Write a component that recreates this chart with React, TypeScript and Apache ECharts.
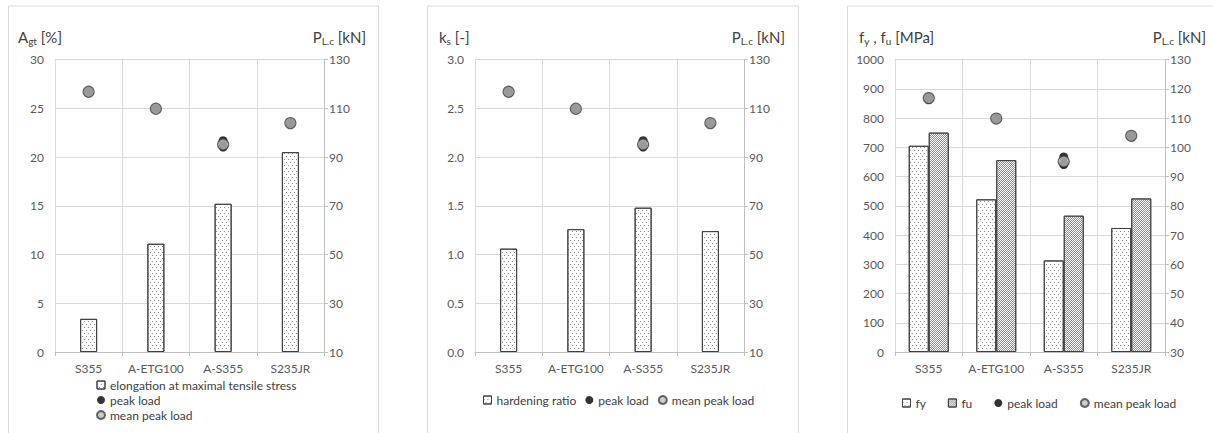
import React, { useEffect, useRef } from "react";
import * as echarts from "echarts";

const categories = ["S355", "A-ETG100", "A-S355", "S235JR"];
const elongation = [3.4, 11.1, 15.2, 20.5];
const hardeningRatio = [1.06, 1.26, 1.48, 1.24];
const fy = [705, 522, 313, 424];
const fu = [750, 656, 466, 525];
const peakLoadA = [116.3, 109.6, 96.7, 103.6];
const peakLoadB = [117.0, 110.0, 94.1, 104.1];
const peakLoadC = [117.1, 109.8, 94.5, 104.0];
const meanPeakLoad = [116.8, 109.8, 95.1, 103.9];

const FONT = "Lato";
const GRID_COLOR = "#d9d9d9";
const LABEL_COLOR = "#595959";
const TEXT_COLOR = "#404040";

const pairs = (arr: number[]) => arr.map((v, i) => [i, v]);

const sparseDecal = {
  symbol: "rect",
  symbolSize: 1,
  color: "#8c8c8c",
  dashArrayX: [[1, 3], [0, 2, 1, 1]],
  dashArrayY: [1, 2],
  rotation: 0,
};
const denseDecal = {
  symbol: "rect",
  symbolSize: 1,
  color: "#8c8c8c",
  dashArrayX: [[1, 1], [0, 1, 1, 0]],
  dashArrayY: [1, 0],
  rotation: 0,
};

type Seg = [string, boolean]; // text, isSubscript

export default function App() {
  const ref = useRef<HTMLDivElement>(null);
  useEffect(() => {
    document.body.style.margin = "0";
    const chart = echarts.init(ref.current!, undefined, { renderer: "svg" });

    const grids = [
      { left: 55, top: 59.5, width: 269, height: 292.5 },
      { left: 475, top: 59.5, width: 269, height: 292.5 },
      { left: 895, top: 59.5, width: 270, height: 292.5 },
    ];

    const xAxes = grids.map((_, i) => ({
      type: "category",
      gridIndex: i,
      data: categories,
      axisLine: { show: true, lineStyle: { color: "#bfbfbf" } },
      axisTick: { show: true, interval: 0, length: 4, lineStyle: { color: "#bfbfbf" } },
      splitLine: { show: true, interval: 0, lineStyle: { color: GRID_COLOR } },
      axisLabel: { interval: 0, color: LABEL_COLOR, fontFamily: FONT, fontSize: 12, margin: 10 },
    }));

    const leftAxis = (i: number, max: number, interval: number, dec: number) => ({
      type: "value",
      gridIndex: i,
      position: "left",
      min: 0,
      max,
      interval,
      axisLine: { show: true, lineStyle: { color: GRID_COLOR } },
      axisTick: { show: false },
      splitLine: { show: true, lineStyle: { color: GRID_COLOR } },
      axisLabel: {
        color: LABEL_COLOR,
        fontFamily: FONT,
        fontSize: 12,
        margin: 11,
        formatter: (v: number) => v.toFixed(dec),
      },
    });
    const rightAxis = (i: number, min: number, interval: number) => ({
      type: "value",
      gridIndex: i,
      position: "right",
      min,
      max: 130,
      interval,
      axisLine: { show: true, lineStyle: { color: "#bfbfbf" } },
      axisTick: { show: true, length: 4, lineStyle: { color: "#bfbfbf" } },
      splitLine: { show: false },
      axisLabel: { color: LABEL_COLOR, fontFamily: FONT, fontSize: 12, margin: 5 },
    });

    const yAxes = [
      leftAxis(0, 30, 5, 0),
      rightAxis(0, 10, 20),
      leftAxis(1, 3, 0.5, 1),
      rightAxis(1, 10, 20),
      leftAxis(2, 1000, 100, 0),
      rightAxis(2, 30, 10),
    ];

    const barStyle = (decal: any) => ({
      color: "#ffffff",
      borderColor: TEXT_COLOR,
      borderWidth: 1,
      decal,
    });

    const scatterSeries = (x: number, y: number) => [
      ...[peakLoadA, peakLoadB, peakLoadC].map((arr) => ({
        type: "scatter",
        name: "peak load",
        xAxisIndex: x,
        yAxisIndex: y,
        data: pairs(arr),
        symbol: "circle",
        symbolSize: 9,
        itemStyle: { color: "#000000" },
        z: 3,
      })),
      {
        type: "scatter",
        name: "mean peak load",
        xAxisIndex: x,
        yAxisIndex: y,
        data: pairs(meanPeakLoad),
        symbol: "circle",
        symbolSize: 11,
        itemStyle: { color: "#bfbfbf", borderColor: TEXT_COLOR, borderWidth: 1.2 },
        z: 4,
      },
    ];

    const series: any[] = [
      {
        type: "bar",
        name: "elongation at maximal tensile stress",
        xAxisIndex: 0,
        yAxisIndex: 0,
        data: elongation,
        barWidth: 17,
        itemStyle: barStyle(sparseDecal),
      },
      ...scatterSeries(0, 1),
      {
        type: "bar",
        name: "hardening ratio",
        xAxisIndex: 1,
        yAxisIndex: 2,
        data: hardeningRatio,
        barWidth: 17,
        itemStyle: barStyle(sparseDecal),
      },
      ...scatterSeries(1, 3),
      {
        type: "bar",
        name: "fy",
        xAxisIndex: 2,
        yAxisIndex: 4,
        data: fy,
        barWidth: 20,
        barGap: "0%",
        itemStyle: barStyle(sparseDecal),
      },
      {
        type: "bar",
        name: "fu",
        xAxisIndex: 2,
        yAxisIndex: 4,
        data: fu,
        barWidth: 20,
        barGap: "0%",
        itemStyle: barStyle(denseDecal),
      },
      ...scatterSeries(2, 5),
    ];

    const legendText = { color: TEXT_COLOR, fontFamily: FONT, fontSize: 12 };
    const item = (name: string, icon: string) => ({
      name,
      icon,
      itemStyle: icon === "rect" ? { borderWidth: 1, borderColor: TEXT_COLOR } : undefined,
    });
    const common = {
      itemWidth: 8,
      itemHeight: 8,
      padding: 0,
      selectedMode: false,
      textStyle: legendText,
    };
    const legends = [
      {
        ...common,
        orient: "vertical",
        left: 96,
        top: 379,
        itemGap: 3,
        data: [
          item("elongation at maximal tensile stress", "rect"),
          item("peak load", "circle"),
          item("mean peak load", "circle"),
        ],
      },
      {
        ...common,
        orient: "horizontal",
        left: 483,
        top: 394,
        itemGap: 9,
        data: [item("hardening ratio", "rect"), item("peak load", "circle"), item("mean peak load", "circle")],
      },
      {
        ...common,
        orient: "horizontal",
        left: 902,
        top: 397,
        itemGap: 22,
        data: [
          item("fy", "rect"),
          item("fu", "rect"),
          item("peak load", "circle"),
          item("mean peak load", "circle"),
        ],
      },
    ];

    // axis titles with subscripts: measured pieces
    const ctx = document.createElement("canvas").getContext("2d")!;
    const BIG = 15;
    const SUB = 10;
    const measure = (t: string, size: number) => {
      ctx.font = `${size}px ${FONT}`;
      return ctx.measureText(t).width;
    };
    const title = (x: number, y: number, segs: Seg[], align: "left" | "right") => {
      const widths = segs.map(([t, s]) => measure(t, s ? SUB : BIG));
      const total = widths.reduce((a, b) => a + b, 0);
      let cx = align === "left" ? x : x - total;
      const out: any[] = [];
      segs.forEach(([t, s], k) => {
        out.push({
          type: "text",
          x: cx,
          y: s ? y + 4 : y,
          silent: true,
          style: {
            text: t,
            fill: TEXT_COLOR,
            font: `${s ? SUB : BIG}px ${FONT}`,
            align: "left",
            verticalAlign: "middle",
          },
        });
        cx += widths[k];
      });
      return out;
    };
    const pTitle: Seg[] = [["P", false], ["L.c", true], [" [kN]", false]];

    const panel = (x: number, w: number) => ({
      type: "rect",
      shape: { x, y: 6, width: w, height: 440 },
      style: { fill: "none", stroke: GRID_COLOR, lineWidth: 1 },
      silent: true,
    });

    chart.setOption({
      animation: false,
      backgroundColor: "#ffffff",
      grid: grids,
      xAxis: xAxes,
      yAxis: yAxes,
      legend: legends,
      series,
      graphic: [
        panel(8.5, 370),
        panel(427.5, 371),
        panel(847.5, 400),
        ...title(18, 37, [["A", false], ["gt", true], [" [%]", false]], "left"),
        ...title(366, 37, pTitle, "right"),
        ...title(439, 37, [["k", false], ["s", true], [" [-]", false]], "left"),
        ...title(785, 37, pTitle, "right"),
        ...title(859, 37, [["f", false], ["y", true], [" , f", false], ["u", true], [" [MPa]", false]], "left"),
        ...title(1206, 37, pTitle, "right"),
      ],
    });
    return () => chart.dispose();
  }, []);
  return <div ref={ref} style={{ width: 1213, height: 433 }} />;
}
